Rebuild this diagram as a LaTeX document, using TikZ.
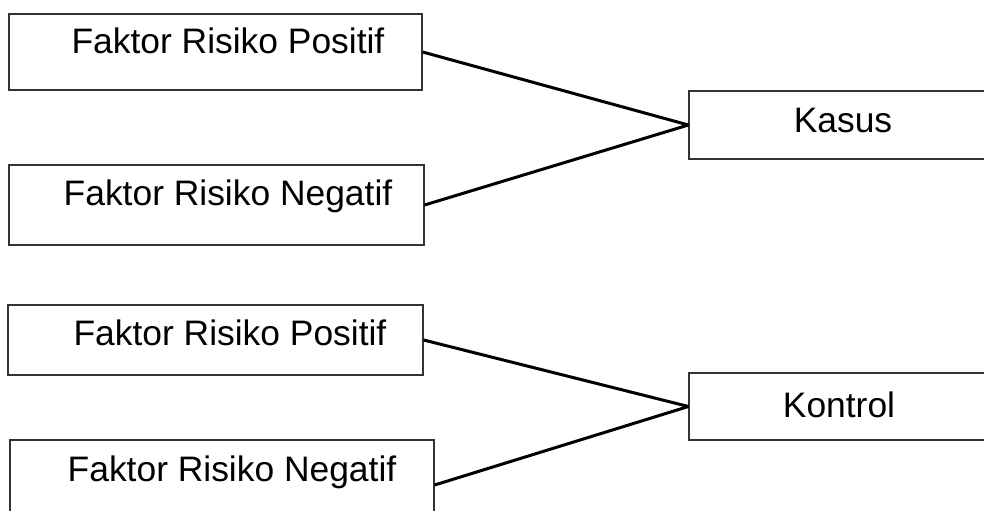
\documentclass[tikz,border=0pt]{standalone}
\usepackage{fontspec}
\setmainfont{Liberation Sans}
\begin{document}
\begin{tikzpicture}[x=1bp,y=-1bp,
  box/.style={draw=black!80,line width=1.2bp,inner sep=0pt,minimum width=#1},
  lbl/.style={anchor=base,inner sep=0pt,font=\fontsize{35.4bp}{40bp}\selectfont},
  conn/.style={line width=3bp,black}]
\useasboundingbox (0,0) rectangle (984,511);
\clip (0,0) rectangle (984,511);
\node[box=413bp,minimum height=76bp] (p1) at (215.5,52) {};
\node[box=415bp,minimum height=80bp] (n1) at (216.5,205) {};
\node[box=308bp,minimum height=68bp] (kasus) at (843,125) {};
\node[box=415bp,minimum height=70bp] (p2) at (215.5,340) {};
\node[box=424bp,minimum height=90bp] (n2) at (222,485) {};
\node[box=308bp,minimum height=67bp] (kontrol) at (843,406.5) {};
\node[lbl] (tp1) at (228,54) {Faktor Risiko Positif};
\node[lbl] (tn1) at (228,206) {Faktor Risiko Negatif};
\node[lbl] (tk) at (843,133) {Kasus};
\node[lbl] (tp2) at (230,346) {Faktor Risiko Positif};
\node[lbl] (tn2) at (232,481) {Faktor Risiko Negatif};
\node[lbl] (tko) at (839,417) {Kontrol};
\draw[conn] (p1.east) -- (kasus.west);
\draw[conn] (n1.east) -- (kasus.west);
\draw[conn] (p2.east) -- (kontrol.west);
\draw[conn] (n2.east) -- (kontrol.west);
\end{tikzpicture}
\end{document}
